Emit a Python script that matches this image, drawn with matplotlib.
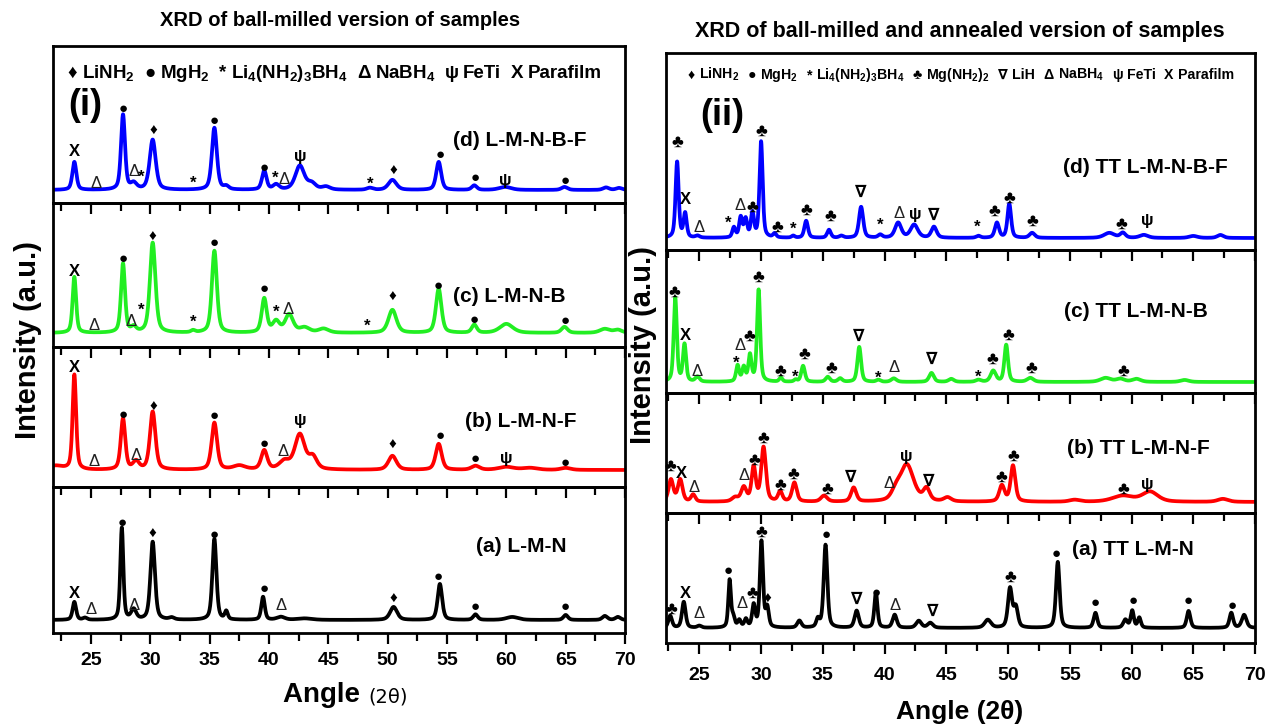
import numpy as np
import matplotlib
matplotlib.use("Agg")
import matplotlib.pyplot as plt
from matplotlib import font_manager
from matplotlib.offsetbox import HPacker, TextArea, AnnotationBbox

_installed = {f.name for f in font_manager.fontManager.ttflist}
BASE = "Liberation Sans Narrow" if "Liberation Sans Narrow" in _installed else "Liberation Sans"
FAM = [BASE, "DejaVu Sans"]
plt.rcParams["font.family"] = FAM
plt.rcParams["font.weight"] = "bold"
plt.rcParams["mathtext.fontset"] = "custom"
for _k in ("rm", "it", "bf", "sf"):
    plt.rcParams["mathtext." + _k] = BASE + ":bold"

# ---------------------------------------------------------------- data
# Peak tables: position (2θ, deg), height (a.u.), FWHM (deg)

# (i) ball-milled
bm_d_pos = [23.6, 27.7, 28.6, 30.2, 35.4, 36.4, 39.6, 40.6, 42.6, 43.6, 44.8, 48.5, 50.4, 54.3, 57.3, 59.9, 64.9, 68.4, 69.5]
bm_d_amp = [28, 75, 6, 50, 62, 3, 19, 5, 24, 6, 3, 2, 10, 28, 4.5, 3, 3, 2.5, 2]
bm_d_fwhm = [0.4, 0.4, 0.6, 0.6, 0.5, 0.5, 0.45, 0.6, 0.9, 0.8, 0.8, 0.6, 0.8, 0.5, 0.5, 1.2, 0.6, 0.6, 0.6]

bm_c_pos = [23.6, 27.7, 28.6, 30.2, 33.6, 35.4, 39.6, 40.6, 41.7, 43.0, 44.6, 50.4, 54.3, 57.3, 60.0, 64.9, 68.3, 69.4]
bm_c_amp = [56, 69, 5, 90, 2, 82, 34, 11, 18, 5, 4, 23, 44, 8, 9, 6, 4, 3]
bm_c_fwhm = [0.35, 0.4, 0.5, 0.55, 0.4, 0.5, 0.5, 0.7, 0.8, 1.0, 1.0, 0.8, 0.55, 0.5, 1.3, 0.6, 1.0, 0.8]

bm_b_pos = [22.0, 23.6, 27.7, 28.8, 30.2, 35.4, 37.5, 39.6, 41.3, 42.6, 43.7, 50.4, 54.3, 57.4, 60.0, 62.0, 65.0]
bm_b_amp = [4, 95, 51, 8, 58, 47, 4, 19, 8, 35, 12, 14, 26, 4, 3, 2, 2]
bm_b_fwhm = [1.5, 0.35, 0.45, 0.6, 0.55, 0.55, 1.2, 0.6, 1.0, 1.0, 0.8, 0.8, 0.6, 0.8, 1.5, 1.5, 1.0]

bm_a_pos = [23.6, 24.5, 27.6, 28.6, 30.2, 31.8, 35.4, 36.4, 39.5, 41.0, 43.0, 50.5, 54.4, 57.4, 60.5, 65.0, 68.3, 69.4]
bm_a_amp = [18, 2, 92, 10, 78, 2, 81, 8, 23, 3, 1.5, 13, 36, 5.5, 3, 5, 4, 3]
bm_a_fwhm = [0.35, 0.4, 0.3, 0.5, 0.45, 0.5, 0.4, 0.3, 0.35, 0.8, 1.5, 0.7, 0.45, 0.45, 1.2, 0.45, 0.5, 0.5]

# (ii) ball-milled and annealed (TT)
tt_d_pos = [23.2, 23.85, 24.85, 27.8, 28.35, 28.75, 29.3, 30.0, 31.1, 32.6, 33.65, 35.5, 36.5, 38.1, 39.65, 41.1, 42.4, 44.0, 47.6, 49.1, 50.1, 51.95, 58.2, 59.3, 61.0, 65.0, 67.2]
tt_d_amp = [76, 24, 2, 10, 20, 18, 24, 96, 4, 2, 17, 8, 2, 31, 3, 15, 13, 11, 2, 15, 34, 5, 5, 5, 3, 2, 3]
tt_d_fwhm = [0.3, 0.3, 0.4, 0.3, 0.3, 0.3, 0.3, 0.3, 0.3, 0.3, 0.35, 0.35, 0.4, 0.4, 0.4, 0.6, 0.7, 0.5, 0.4, 0.4, 0.35, 0.5, 1.0, 0.5, 0.8, 0.8, 0.6]

tt_c_pos = [23.05, 23.8, 24.85, 28.1, 28.6, 29.1, 29.8, 31.6, 32.8, 33.4, 35.4, 36.4, 37.95, 39.5, 40.75, 43.8, 45.4, 47.6, 48.8, 49.85, 51.8, 57.9, 59.1, 60.4, 64.3]
tt_c_amp = [84, 37, 5, 16, 14, 26, 92, 4, 2, 16, 5, 3.5, 35, 2, 3.5, 9, 3, 2, 11, 37, 4, 4, 3, 3, 2]
tt_c_fwhm = [0.3, 0.3, 0.4, 0.3, 0.3, 0.3, 0.3, 0.3, 0.3, 0.35, 0.4, 0.4, 0.35, 0.4, 0.5, 0.45, 0.5, 0.5, 0.5, 0.35, 0.6, 1.0, 0.8, 0.8, 0.8]

tt_b_pos = [22.7, 23.45, 24.5, 27.9, 28.6, 29.4, 30.2, 31.55, 32.7, 35.1, 37.5, 40.9, 41.8, 43.4, 45.1, 49.5, 50.4, 55.4, 59.3, 61.5, 67.4]
tt_b_amp = [22, 22, 7, 4, 14, 34, 54, 10, 19, 6, 14, 8, 37, 12, 4, 16, 36, 2, 6, 10, 3]
tt_b_fwhm = [0.45, 0.45, 0.4, 0.6, 0.5, 0.4, 0.45, 0.4, 0.45, 0.6, 0.5, 0.8, 1.3, 0.6, 0.7, 0.5, 0.45, 1.0, 2.0, 1.5, 1.0]

tt_a_pos = [22.64, 23.74, 25.0, 27.45, 27.74, 28.24, 28.77, 29.4, 30.03, 30.5, 33.1, 34.6, 35.22, 37.74, 39.3, 40.82, 42.77, 43.7, 48.36, 50.16, 50.63, 54.03, 57.08, 59.5, 60.06, 60.63, 64.62, 68.08, 69.12]
tt_a_amp = [12, 26, 2, 47, 10, 7, 8, 22, 86, 19, 7, 8, 83, 17, 35, 13, 7, 5, 8, 39, 20, 66, 15, 8, 17, 10, 17, 15, 13]
tt_a_fwhm = [0.35, 0.35, 0.4, 0.25, 0.3, 0.3, 0.3, 0.3, 0.3, 0.3, 0.4, 0.3, 0.35, 0.4, 0.3, 0.4, 0.5, 0.5, 0.6, 0.4, 0.4, 0.35, 0.35, 0.4, 0.3, 0.3, 0.35, 0.35, 0.45]

# Phase markers: position (2θ), height (a.u.), symbol
bm_d_mx = [23.6, 25.4, 27.7, 28.6, 29.2, 30.3, 33.6, 35.4, 39.6, 40.5, 41.3, 42.6, 48.5, 50.5, 54.4, 57.4, 59.9, 65.0]
bm_d_my = [38, 7, 81, 18, 13, 59, 7, 69, 22, 12, 10, 34, 6, 19, 35, 12, 9, 9]
bm_d_ms = ['X', 'Δ', '●', 'Δ', '*', '♦', '*', '●', '●', '*', 'Δ', 'ψ', '*', '♦', '●', '●', 'ψ', '●']

bm_c_mx = [23.6, 25.3, 27.7, 28.4, 29.2, 30.2, 33.6, 35.4, 39.6, 40.6, 41.6, 48.3, 50.4, 54.3, 57.3, 65.0]
bm_c_my = [62, 8, 74, 12, 23, 96, 11, 90, 44, 21, 23, 7, 36, 47, 13, 12]
bm_c_ms = ['X', 'Δ', '●', 'Δ', '*', '♦', '*', '●', '●', '*', 'Δ', '*', '♦', '●', '●', '●']

bm_b_mx = [23.6, 25.3, 27.7, 28.8, 30.3, 35.4, 39.6, 41.2, 42.6, 50.4, 54.4, 57.4, 60.0, 65.0]
bm_b_my = [102, 9, 55, 14, 63, 54, 26, 19, 49, 25, 34, 11, 12, 7]
bm_b_ms = ['X', 'Δ', '●', 'Δ', '♦', '●', '●', 'Δ', 'ψ', '♦', '●', '●', 'ψ', '●']

bm_a_mx = [23.6, 25.0, 27.6, 28.6, 30.2, 35.4, 39.6, 41.0, 50.5, 54.3, 57.4, 65.0]
bm_a_my = [26, 11, 97, 15, 86, 85, 31, 15, 21, 43, 13, 13]
bm_a_ms = ['X', 'Δ', '●', 'Δ', '♦', '●', '●', 'Δ', '♦', '●', '●', '●']

tt_d_mx = [23.2, 23.85, 25.0, 27.35, 28.3, 29.3, 30.0, 31.3, 32.6, 33.7, 35.6, 38.1, 39.65, 41.2, 42.45, 44.0, 47.5, 48.9, 50.1, 52.0, 59.2, 61.3]
tt_d_my = [96, 39, 10, 15, 33, 31, 107, 11, 9, 28, 22, 46, 13, 24, 24, 23, 11, 27, 40, 17, 14, 18]
tt_d_ms = ['♣', 'X', 'Δ', '*', 'Δ', '♣', '♣', '♣', '*', '♣', '♣', '∇', '*', 'Δ', 'ψ', '∇', '*', '♣', '♣', '♣', '♣', 'ψ']

tt_c_mx = [23.0, 23.86, 24.85, 27.97, 28.28, 29.09, 29.78, 31.6, 32.8, 33.5, 35.66, 37.94, 39.5, 40.74, 43.8, 47.6, 48.75, 50.03, 51.9, 59.37]
tt_c_my = [90, 46, 11, 19, 37, 46, 105, 11, 5, 28, 14, 46, 4, 14, 23, 5, 23, 47, 14, 11]
tt_c_ms = ['♣', 'X', 'Δ', '*', 'Δ', '♣', '♣', '♣', '*', '♣', '♣', '∇', '*', 'Δ', '∇', '*', '♣', '♣', '♣', '♣']

tt_b_mx = [22.67, 23.55, 24.6, 28.65, 29.47, 30.15, 31.55, 32.64, 35.38, 37.3, 40.37, 41.74, 43.55, 49.47, 50.46, 59.37, 61.3]
tt_b_my = [36, 28, 15, 27, 42, 64, 17, 28, 13, 25, 18, 46, 21, 25, 46, 13, 18]
tt_b_ms = ['♣', 'X', 'Δ', 'Δ', '♣', '♣', '♣', '♣', '♣', '∇', 'Δ', 'ψ', '∇', '♣', '♣', '♣', 'ψ']

tt_a_mx = [22.7, 23.84, 25.0, 27.36, 28.5, 29.3, 30.03, 30.5, 35.28, 37.74, 39.3, 40.82, 43.87, 50.16, 53.93, 57.08, 60.13, 64.62, 68.14]
tt_a_my = [19, 35, 15, 57, 25, 35, 96, 29, 93, 29, 35, 22, 17, 51, 74, 25, 27, 27, 22]
tt_a_ms = ['♣', 'X', 'Δ', '●', 'Δ', '♣', '♣', '♦', '●', '∇', '●', 'Δ', '∇', '♣', '●', '●', '●', '●', '●']

bm_names = ["(d) L-M-N-B-F", "(c) L-M-N-B", "(b) L-M-N-F", "(a) L-M-N"]
tt_names = ["(d) TT L-M-N-B-F", "(c) TT L-M-N-B", "(b) TT L-M-N-F", "(a) TT L-M-N"]
trace_colors = ["#0000ff", "#22ee22", "#ff0000", "#000000"]

bm_legend = [("♦", "LiNH$_2$"), ("●", "MgH$_2$"), ("*", "Li$_4$(NH$_2$)$_3$BH$_4$"),
             ("Δ", "NaBH$_4$"), ("ψ", "FeTi"), ("X", "Parafilm")]
tt_legend = [("♦", "LiNH$_2$"), ("●", "MgH$_2$"), ("*", "Li$_4$(NH$_2$)$_3$BH$_4$"),
             ("♣", "Mg(NH$_2$)$_2$"), ("∇", "LiH"), ("Δ", "NaBH$_4$"), ("ψ", "FeTi"), ("X", "Parafilm")]

ticks_major = [25, 30, 35, 40, 45, 50, 55, 60, 65, 70]
ticks_minor = [22.5, 27.5, 32.5, 37.5, 42.5, 47.5, 52.5, 57.5, 62.5, 67.5]

# ---------------------------------------------------------------- layout (pixels)
W, H = 1265, 727
fig = plt.figure(figsize=(W / 100, H / 100), dpi=100)

LEFT = dict(x0=53, x1=625, edges=[46, 203, 347, 487, 633], base=[190, 333, 470, 620], xlim=(21.8, 70))
RIGHT = dict(x0=666, x1=1255, edges=[53, 250, 393, 513, 643], base=[238, 382, 502, 628], xlim=(22.3, 70))


def profile(x, pos, amp, fwhm):
    y = np.zeros_like(x)
    for p, a, w in zip(pos, amp, fwhm):
        d = (x - p) / w
        y += a * (0.5 / (1 + 4 * d * d) + 0.5 * np.exp(-4 * np.log(2) * d * d))
    return y


def legend_row(ax, items, fontsize, xy, sep):
    groups = []
    for sym, name in items:
        s = TextArea(sym, textprops=dict(fontsize=fontsize, fontweight="bold", family=FAM,
                                         color="black"))
        n = TextArea(name, textprops=dict(fontsize=fontsize, fontweight="bold", color="black"))
        groups.append(HPacker(children=[s, n], pad=0, sep=3, align="baseline"))
    row = HPacker(children=groups, pad=0, sep=sep, align="baseline")
    ab = AnnotationBbox(row, xy, xycoords="axes fraction", box_alignment=(0, 0.5),
                        frameon=False, pad=0)
    ax.add_artist(ab)


def build(side, tables, marks, names, label_xy, legend, legend_fs, legend_xy, legend_sep,
          roman, roman_xy, tick_pad):
    axes = []
    xs = np.linspace(side["xlim"][0], side["xlim"][1], 3000)
    for i in range(4):
        top, bot = side["edges"][i], side["edges"][i + 1]
        rect = [side["x0"] / W, 1 - bot / H, (side["x1"] - side["x0"]) / W, (bot - top) / H]
        ax = fig.add_axes(rect)
        ax.patch.set_alpha(0)
        base = side["base"][i]
        ax.set_ylim(-(bot - base), base - top)
        ax.set_xlim(*side["xlim"])
        pos, amp, fwhm = tables[i]
        ax.plot(xs, profile(xs, pos, amp, fwhm), color=trace_colors[i], lw=2.7,
                solid_joinstyle="round")
        mx, my, ms = marks[i]
        for x, y, s in zip(mx, my, ms):
            fs = 13 if s == "♣" else (11 if s in "●♦" else 12)
            fw = "normal" if s == "Δ" else "bold"
            ax.text(x, y, s, ha="center", va="center", fontsize=fs, fontweight=fw,
                    family=FAM, color="#222222" if s == "Δ" else "black")
        ax.text(label_xy[i][0], label_xy[i][1], names[i], transform=ax.transAxes,
                ha="left", va="center", fontsize=15, fontweight="bold")
        ax.set_yticks([])
        ax.set_xticks(ticks_major)
        ax.set_xticks(ticks_minor, minor=True)
        ax.tick_params(axis="x", which="both", direction="out", width=1.6, color="black",
                       labelsize=14, pad=tick_pad, labelbottom=(i == 3))
        ax.tick_params(axis="x", which="major", length=8)
        ax.tick_params(axis="x", which="minor", length=6)
        for sp in ax.spines.values():
            sp.set_linewidth(2.0)
        axes.append(ax)
    legend_row(axes[0], legend, legend_fs, legend_xy, legend_sep)
    axes[0].text(roman_xy[0], roman_xy[1], roman, transform=axes[0].transAxes,
                 ha="center", va="center", fontsize=26, fontweight="bold")
    return axes


build(LEFT,
      [(bm_d_pos, bm_d_amp, bm_d_fwhm), (bm_c_pos, bm_c_amp, bm_c_fwhm),
       (bm_b_pos, bm_b_amp, bm_b_fwhm), (bm_a_pos, bm_a_amp, bm_a_fwhm)],
      [(bm_d_mx, bm_d_my, bm_d_ms), (bm_c_mx, bm_c_my, bm_c_ms),
       (bm_b_mx, bm_b_my, bm_b_ms), (bm_a_mx, bm_a_my, bm_a_ms)],
      bm_names, [(0.70, 0.40), (0.70, 0.35), (0.72, 0.47), (0.74, 0.59)],
      bm_legend, 13.5, (0.026, 0.828), 7, "(i)", (0.056, 0.62), 6)

build(RIGHT,
      [(tt_d_pos, tt_d_amp, tt_d_fwhm), (tt_c_pos, tt_c_amp, tt_c_fwhm),
       (tt_b_pos, tt_b_amp, tt_b_fwhm), (tt_a_pos, tt_a_amp, tt_a_fwhm)],
      [(tt_d_mx, tt_d_my, tt_d_ms), (tt_c_mx, tt_c_my, tt_c_ms),
       (tt_b_mx, tt_b_my, tt_b_ms), (tt_a_mx, tt_a_my, tt_a_ms)],
      tt_names, [(0.674, 0.42), (0.676, 0.57), (0.68, 0.54), (0.69, 0.72)],
      tt_legend, 10.2, (0.037, 0.888), 6, "(ii)", (0.095, 0.685), 9)

# titles and axis captions
fig.text(340 / W, 1 - 20 / H, "XRD of ball-milled version of samples", ha="center", va="center",
         fontsize=14.5, fontweight="bold")
fig.text(960 / W, 1 - 32 / H, "XRD of ball-milled and annealed version of samples", ha="center",
         va="center", fontsize=15.5, fontweight="bold")
fig.text(28 / W, 1 - 340 / H, "Intensity (a.u.)", rotation=90, ha="center", va="center",
         fontsize=21, fontweight="bold")
fig.text(643 / W, 1 - 345 / H, "Intensity (a.u.)", rotation=90, ha="center", va="center",
         fontsize=21, fontweight="bold")
fig.text(368 / W, 1 - 695 / H, "Angle ", ha="right", va="center", fontsize=20, fontweight="bold")
fig.text(368 / W, 1 - 697 / H, "(2θ)", ha="left", va="center", fontsize=14, fontweight="normal",
         family=["DejaVu Sans"])
fig.text(960 / W, 1 - 712 / H, "Angle (2θ)", ha="center", va="center", fontsize=19, fontweight="bold")

fig.savefig("out.png", dpi=100)
